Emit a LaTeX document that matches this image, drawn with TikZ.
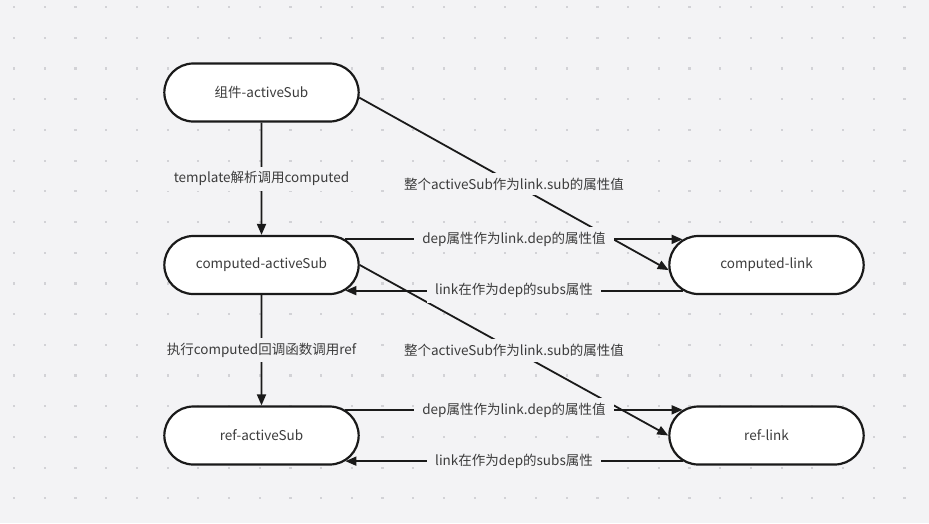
\documentclass[tikz,border=0pt]{standalone}
\usepackage{fontspec}
\setmainfont{Noto Sans CJK SC}
\usetikzlibrary{positioning, arrows.meta, shapes.misc}
\definecolor{bgc}{HTML}{F3F3F5}
\definecolor{dotc}{HTML}{D2D2D6}
\definecolor{txt}{HTML}{3C3C3C}
\definecolor{ln}{HTML}{1A1A1A}

\begin{document}
\begin{tikzpicture}[x=1pt, y=1pt, on grid, font=\fontsize{13.5}{16}\selectfont,
    >={Triangle[length=11pt, width=9pt]},
    state/.style={rounded rectangle, draw=ln, line width=2.2pt, fill=white, text=txt,
      minimum width=201pt, minimum height=58pt},
    lbl/.style={fill=bgc, text=txt, inner xsep=8pt, inner ysep=5pt},
    flow/.style={->, draw=ln, line width=1.8pt}]
    % background and dot grid
    \fill[bgc] (0,0) rectangle (929,-523);
    \useasboundingbox (0,0) rectangle (929,-523);
    \foreach \i in {0,...,30}
      \foreach \j in {0,...,17}
        \fill[dotc] (13+30.7*\i, -6-30.7*\j) rectangle ++(2.2,-2.2);

    \node[state] (comp) at (261.5,-92.5) {组件-activeSub};
    \node[state, below=172.5pt of comp] (cas) {computed-activeSub};
    \node[state, below=170.5pt of cas] (ras) {ref-activeSub};
    \node[state, right=505pt of cas] (clink) {computed-link};
    \node[state, right=505pt of ras] (rlink) {ref-link};

    \draw (comp) edge[flow] node[lbl] {template解析调用computed} (cas);
    \draw (cas) edge[flow] node[lbl] {执行computed回调函数调用ref} (ras);
    \draw (comp.-3.5) edge[flow] node[lbl] {整个activeSub作为link.sub的属性值} (clink.183);
    \draw (cas.east) edge[flow] node[lbl] {整个activeSub作为link.sub的属性值} (rlink.west);
    \draw (cas.17) edge[flow] node[lbl] {dep属性作为link.dep的属性值} (clink.163);
    \draw (clink.197) edge[flow] node[lbl] {link在作为dep的subs属性} (cas.-17);
    \draw (ras.17) edge[flow] node[lbl] {dep属性作为link.dep的属性值} (rlink.163);
    \draw (rlink.197) edge[flow] node[lbl] {link在作为dep的subs属性} (ras.-17);
\end{tikzpicture}
\end{document}
